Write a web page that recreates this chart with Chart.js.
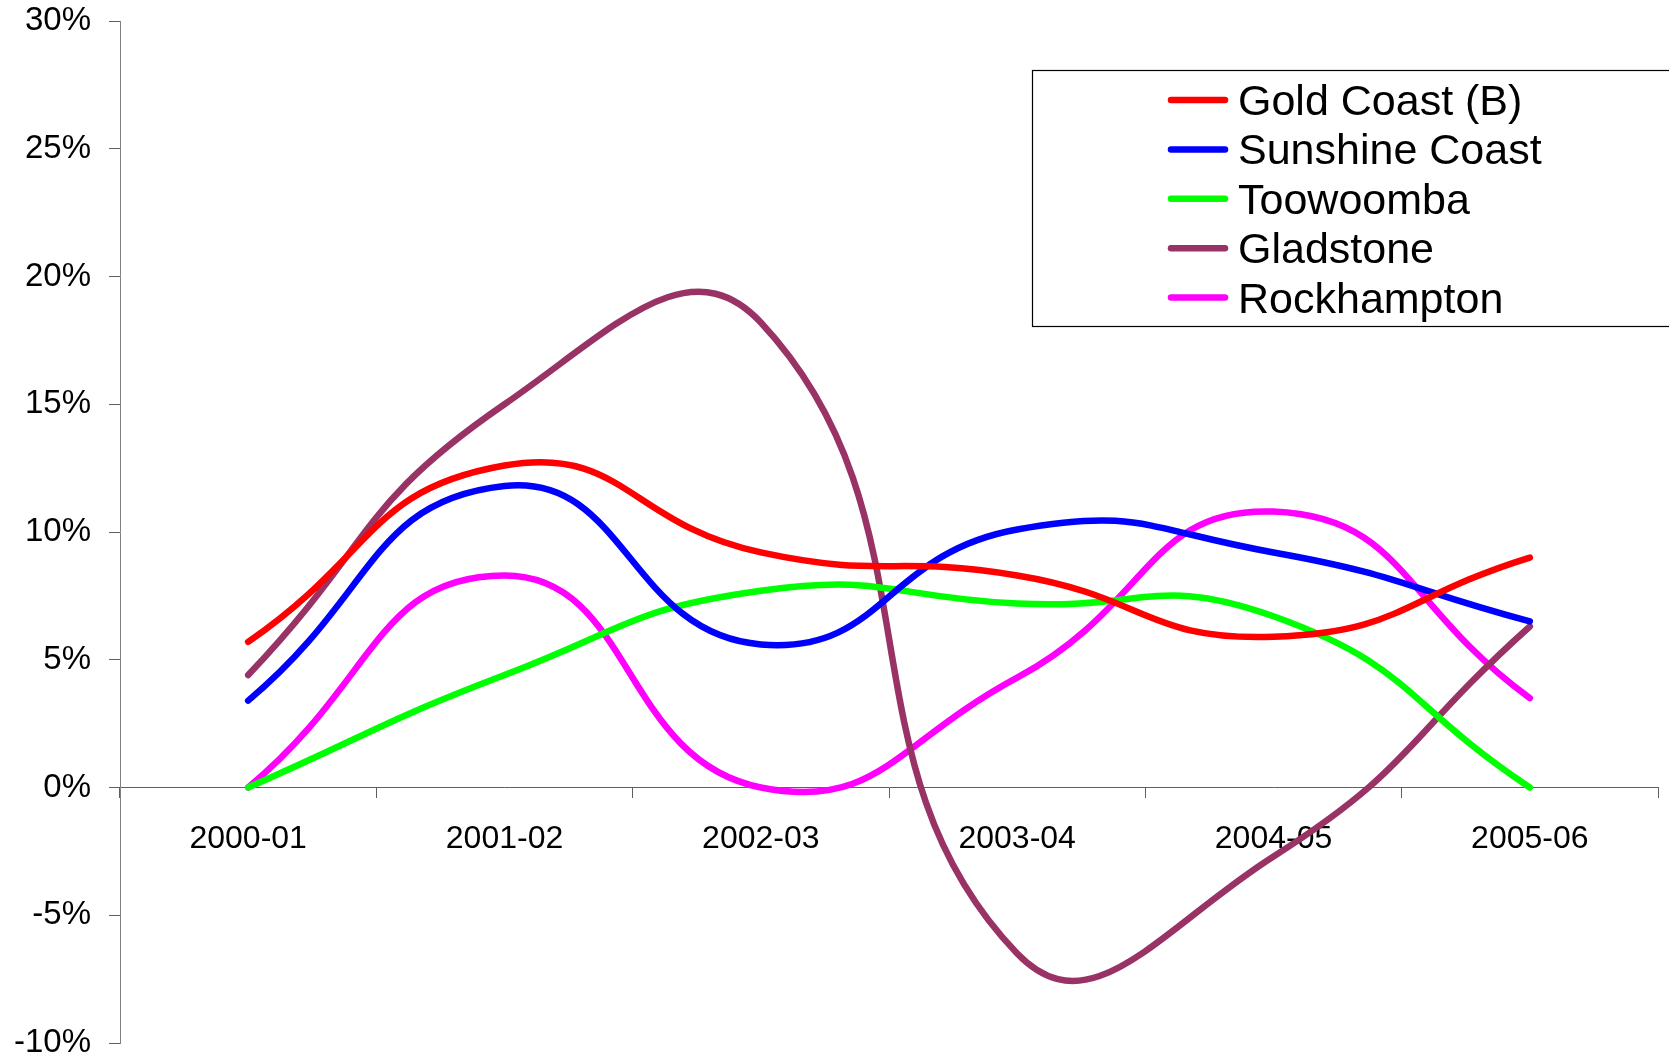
<!DOCTYPE html>
<html>
<head>
<meta charset="utf-8">
<script src="https://cdn.jsdelivr.net/npm/chart.js@4.4.0/dist/chart.umd.min.js"></script>
<style>
  html, body { margin: 0; padding: 0; background: #ffffff; overflow: hidden; }
  #wrap { position: relative; width: 1669px; height: 1060px; }
</style>
</head>
<body>
<div id="wrap"><canvas id="c" width="1669" height="1060"></canvas></div>
<script>
// Financial years on the category axis
const years = ['2000-01', '2001-02', '2002-03', '2003-04', '2004-05', '2005-06'];

// Annual growth, per cent
const goldCoast     = [5.7, 12.6, 9.2, 8.3, 5.9, 9.0];
const sunshineCoast = [3.4, 11.8, 5.6, 10.1, 9.2, 6.5];
const toowoomba     = [0.0, 4.4, 7.7, 7.2, 6.7, 0.0];
const gladstone     = [4.4, 15.0, 18.2, -6.5, -2.7, 6.3];
const rockhampton   = [0.0, 8.3, 0.0, 4.3, 10.8, 3.5];

// Value axis tick range
const yMin = -10, yMax = 30, yStep = 5;

const FONT = '"Liberation Sans", Arial, Helvetica, sans-serif';

function series(label, data, color) {
  return {
    label, data,
    borderColor: color,
    backgroundColor: color,
    borderWidth: 6.5,
    borderCapStyle: 'round',
    borderJoinStyle: 'round',
    pointRadius: 0,
    pointHoverRadius: 0,
    tension: 0.5,
    fill: false
  };
}

// Boxed legend in the upper right, running off the right edge
const boxLegend = {
  id: 'boxLegend',
  afterDraw(chart) {
    const ctx = chart.ctx;
    const left = 1032.5, top = 70.5, bottom = 326.5;
    ctx.save();
    ctx.fillStyle = '#ffffff';
    ctx.fillRect(left, top, 700, bottom - top);
    ctx.strokeStyle = '#000000';
    ctx.lineWidth = 1.2;
    ctx.strokeRect(left, top, 700, bottom - top);
    ctx.font = '43px ' + FONT;
    ctx.textBaseline = 'alphabetic';
    ctx.textAlign = 'left';
    chart.data.datasets.forEach((ds, i) => {
      const y = 100 + i * 49.4;
      ctx.strokeStyle = ds.borderColor;
      ctx.lineWidth = 6.5;
      ctx.lineCap = 'round';
      ctx.beginPath();
      ctx.moveTo(1171, y);
      ctx.lineTo(1225, y);
      ctx.stroke();
      ctx.fillStyle = '#000000';
      ctx.fillText(ds.label, 1238, y + 15);
    });
    ctx.restore();
  }
};

new Chart(document.getElementById('c'), {
  type: 'line',
  data: {
    labels: years,
    datasets: [
      series('Gold Coast (B)', goldCoast, '#ff0000'),
      series('Sunshine Coast', sunshineCoast, '#0000ff'),
      series('Toowoomba', toowoomba, '#00ff00'),
      series('Gladstone', gladstone, '#993366'),
      series('Rockhampton', rockhampton, '#ff00ff')
    ]
  },
  options: {
    responsive: false,
    animation: false,
    devicePixelRatio: 1,
    layout: { padding: { top: 21, right: 11, bottom: 17, left: 0 } },
    plugins: {
      legend: { display: false },
      tooltip: { enabled: false }
    },
    scales: {
      x: {
        type: 'category',
        position: { y: 0 },
        offset: true,
        grid: {
          offset: true,
          drawOnChartArea: false,
          drawTicks: true,
          tickLength: 10,
          color: '#606060',
          lineWidth: 1
        },
        border: { display: true, color: '#606060', width: 1 },
        ticks: {
          color: '#000000',
          font: { family: FONT, size: 32, lineHeight: 1 },
          padding: 26,
          maxRotation: 0,
          autoSkip: false
        }
      },
      y: {
        min: yMin,
        max: yMax,
        grid: {
          drawOnChartArea: false,
          drawTicks: true,
          tickLength: 11,
          color: '#606060',
          lineWidth: 1
        },
        border: { display: true, color: '#808080', width: 1 },
        ticks: {
          stepSize: yStep,
          color: '#000000',
          font: { family: FONT, size: 33, lineHeight: 1 },
          padding: 18,
          callback: v => v + '%'
        },
        afterFit(scale) {
          scale.width = 120;
          scale.paddingTop = 0;
          scale.paddingBottom = 0;
        }
      }
    }
  },
  plugins: [boxLegend]
});
</script>
</body>
</html>
